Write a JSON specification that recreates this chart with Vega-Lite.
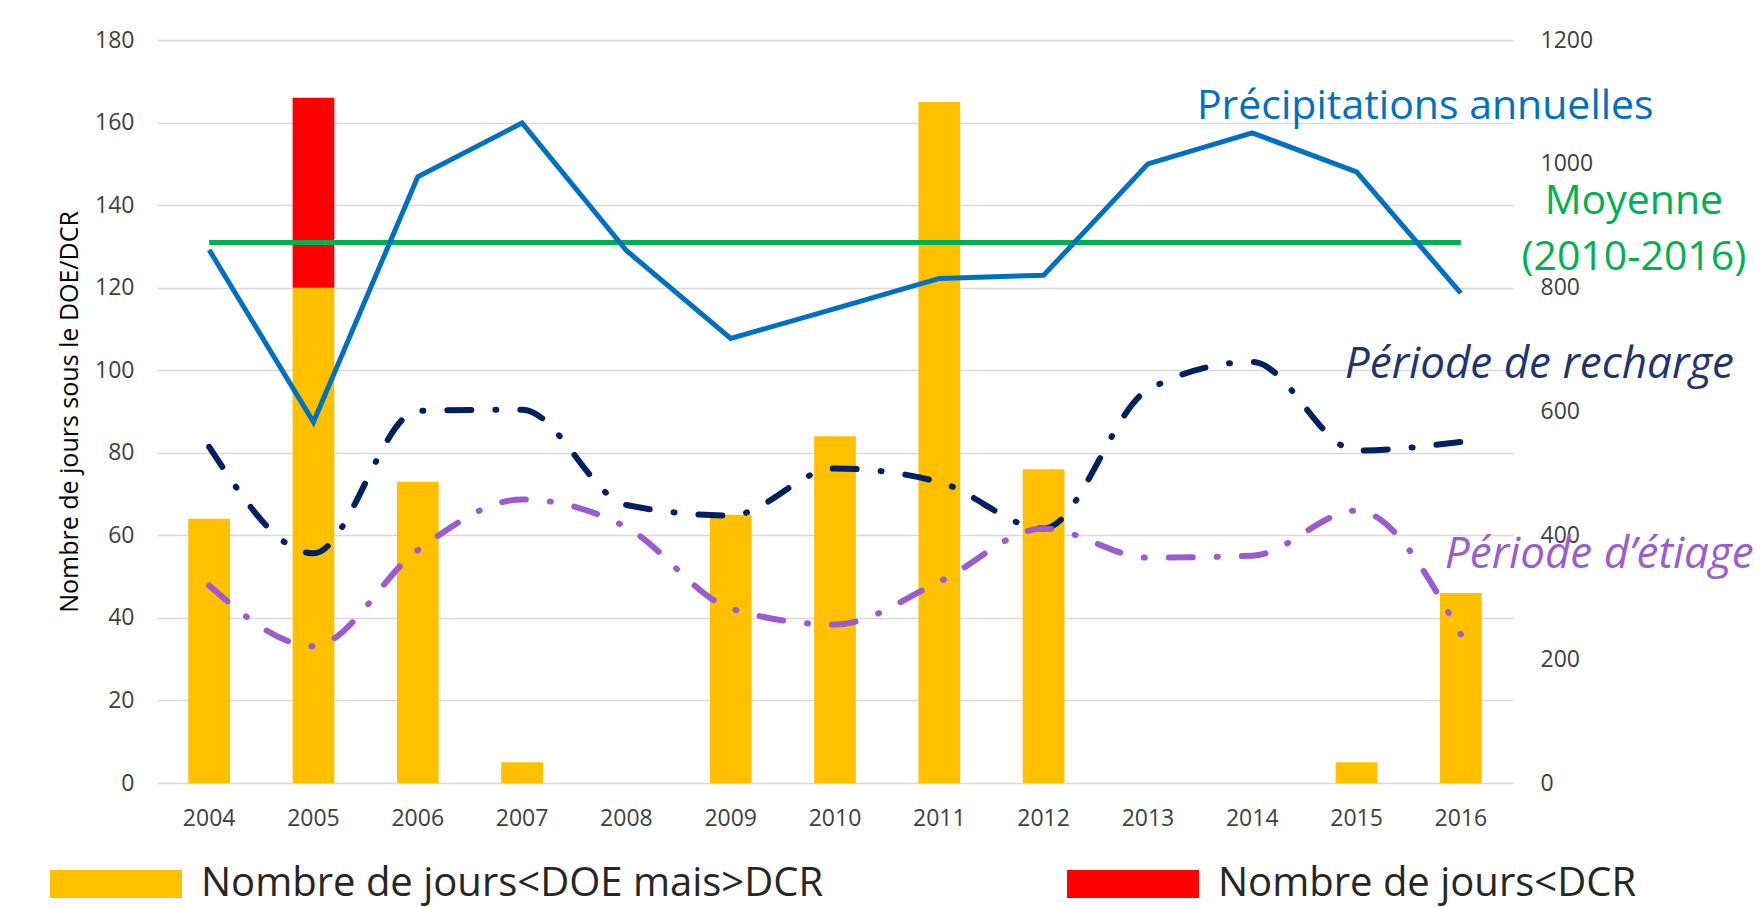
{
  "$schema": "https://vega.github.io/schema/vega-lite/v6.json",
  "width": 1356,
  "height": 743,
  "autosize": {"type": "none"},
  "padding": {"left": 157, "top": 40, "right": 249, "bottom": 124},
  "background": "white",
  "config": {
    "view": {"stroke": null},
    "font": "Open Sans",
    "axis": {"ticks": false, "domain": false, "labelFont": "Open Sans", "labelFontSize": 23, "labelColor": "#404040", "titleFont": "Open Sans"},
    "legend": {"padding": 0}
  },
  "datasets": {
    "bars": [
      {"year": "2004", "type": "Nombre de jours<DOE mais>DCR", "jours": 64},
      {"year": "2005", "type": "Nombre de jours<DOE mais>DCR", "jours": 120},
      {"year": "2005", "type": "Nombre de jours<DCR", "jours": 46},
      {"year": "2006", "type": "Nombre de jours<DOE mais>DCR", "jours": 73},
      {"year": "2007", "type": "Nombre de jours<DOE mais>DCR", "jours": 5},
      {"year": "2008", "type": "Nombre de jours<DOE mais>DCR", "jours": 0},
      {"year": "2009", "type": "Nombre de jours<DOE mais>DCR", "jours": 65},
      {"year": "2010", "type": "Nombre de jours<DOE mais>DCR", "jours": 84},
      {"year": "2011", "type": "Nombre de jours<DOE mais>DCR", "jours": 165},
      {"year": "2012", "type": "Nombre de jours<DOE mais>DCR", "jours": 76},
      {"year": "2013", "type": "Nombre de jours<DOE mais>DCR", "jours": 0},
      {"year": "2014", "type": "Nombre de jours<DOE mais>DCR", "jours": 0},
      {"year": "2015", "type": "Nombre de jours<DOE mais>DCR", "jours": 5},
      {"year": "2016", "type": "Nombre de jours<DOE mais>DCR", "jours": 46}
    ],
    "precip": [
      {"year": "2004", "value": 861}, {"year": "2005", "value": 583}, {"year": "2006", "value": 979},
      {"year": "2007", "value": 1066}, {"year": "2008", "value": 860}, {"year": "2009", "value": 718},
      {"year": "2010", "value": 766}, {"year": "2011", "value": 815}, {"year": "2012", "value": 820},
      {"year": "2013", "value": 1000}, {"year": "2014", "value": 1050}, {"year": "2015", "value": 987},
      {"year": "2016", "value": 791}
    ],
    "recharge": [
      {"year": "2004", "value": 543}, {"year": "2005", "value": 371}, {"year": "2006", "value": 601},
      {"year": "2007", "value": 603}, {"year": "2008", "value": 449}, {"year": "2009", "value": 432},
      {"year": "2010", "value": 508}, {"year": "2011", "value": 486}, {"year": "2012", "value": 411},
      {"year": "2013", "value": 635}, {"year": "2014", "value": 680}, {"year": "2015", "value": 537},
      {"year": "2016", "value": 551}
    ],
    "etiage": [
      {"year": "2004", "value": 319}, {"year": "2005", "value": 221}, {"year": "2006", "value": 376},
      {"year": "2007", "value": 458}, {"year": "2008", "value": 413}, {"year": "2009", "value": 282},
      {"year": "2010", "value": 256}, {"year": "2011", "value": 325}, {"year": "2012", "value": 411},
      {"year": "2013", "value": 364}, {"year": "2014", "value": 367}, {"year": "2015", "value": 440},
      {"year": "2016", "value": 240}
    ],
    "moyenne": [
      {"year": "2004", "value": 873}, {"year": "2016", "value": 873}
    ]
  },
  "layer": [
    {
      "data": {"name": "bars"},
      "mark": {"type": "bar"},
      "encoding": {
        "x": {
          "field": "year", "type": "ordinal",
          "scale": {"paddingInner": 0.6, "paddingOuter": 0.3},
          "axis": {"title": null, "labelAngle": 0, "labelPadding": 24, "grid": false}
        },
        "y": {
          "field": "jours", "type": "quantitative", "stack": "zero",
          "scale": {"domain": [0, 180], "nice": false},
          "axis": {
            "values": [0, 20, 40, 60, 80, 100, 120, 140, 160, 180],
            "grid": true, "gridColor": "#D9D9D9", "gridWidth": 1.5,
            "labelPadding": 23,
            "title": "Nombre de jours sous le DOE/DCR",
            "titleFontSize": 25, "titleFontWeight": "normal", "titleColor": "#000000", "titlePadding": 12
          }
        },
        "color": {
          "field": "type", "type": "nominal",
          "scale": {"domain": ["Nombre de jours<DOE mais>DCR", "Nombre de jours<DCR"], "range": ["#FFC000", "#FF0000"]},
          "legend": {
            "title": null, "orient": "none", "direction": "horizontal",
            "legendX": -107, "legendY": 778,
            "symbolType": "M-1,-0.2121H1V0.2121H-1Z", "symbolSize": 17424, "symbolStrokeWidth": 0,
            "labelFontSize": 40, "labelFont": "Open Sans", "labelColor": "#262626", "labelLimit": 1200,
            "labelOffset": 19, "columnPadding": 243
          }
        },
        "order": {"field": "type", "sort": "descending"}
      }
    },
    {
      "encoding": {
        "x": {
          "field": "year", "type": "ordinal", "bandPosition": 0.5,
          "axis": {"title": null, "labelAngle": 0, "labelPadding": 24, "grid": false}
        },
        "y": {
          "field": "value", "type": "quantitative",
          "scale": {"domain": [0, 1200], "nice": false},
          "axis": {"values": [0, 200, 400, 600, 800, 1000, 1200], "format": "d", "grid": false, "labelPadding": 27, "title": null, "orient": "right"}
        }
      },
      "layer": [
        {
          "data": {"name": "moyenne"},
          "mark": {"type": "line", "color": "#00B050", "strokeWidth": 5}
        },
        {
          "data": {"name": "precip"},
          "mark": {"type": "line", "color": "#0070C0", "strokeWidth": 5}
        },
        {
          "data": {"name": "recharge"},
          "mark": {"type": "line", "color": "#002060", "strokeWidth": 6, "strokeCap": "round", "strokeDash": [24, 24, 1, 24], "interpolate": "monotone"}
        },
        {
          "data": {"name": "etiage"},
          "mark": {"type": "line", "color": "#9A5CCF", "strokeWidth": 6, "strokeCap": "round", "strokeDash": [24, 24, 1, 24], "interpolate": "monotone"}
        },
        {
          "data": {"values": [{"year": "2013", "value": 1073, "label": "Précipitations annuelles"}]},
          "mark": {"type": "text", "color": "#0070C0", "fontSize": 41, "font": "Open Sans", "align": "left", "baseline": "alphabetic", "dx": 49},
          "encoding": {"text": {"field": "label"}}
        },
        {
          "data": {"values": [{"year": "2016", "value": 919, "label": "Moyenne"}, {"year": "2016", "value": 828, "label": "(2010-2016)"}]},
          "mark": {"type": "text", "color": "#00B050", "fontSize": 41, "font": "Open Sans", "align": "center", "baseline": "alphabetic", "dx": 173},
          "encoding": {"text": {"field": "label"}}
        },
        {
          "data": {"values": [{"year": "2016", "value": 654, "label": "Période de recharge"}]},
          "mark": {"type": "text", "color": "#22346E", "fontSize": 44, "font": "Open Sans", "fontStyle": "italic", "align": "left", "baseline": "alphabetic", "dx": -116},
          "encoding": {"text": {"field": "label"}}
        },
        {
          "data": {"values": [{"year": "2016", "value": 348, "label": "Période d’étiage"}]},
          "mark": {"type": "text", "color": "#9A5CCF", "fontSize": 44, "font": "Open Sans", "fontStyle": "italic", "align": "left", "baseline": "alphabetic", "dx": -16},
          "encoding": {"text": {"field": "label"}}
        }
      ]
    }
  ],
  "resolve": {"scale": {"y": "independent"}}
}
